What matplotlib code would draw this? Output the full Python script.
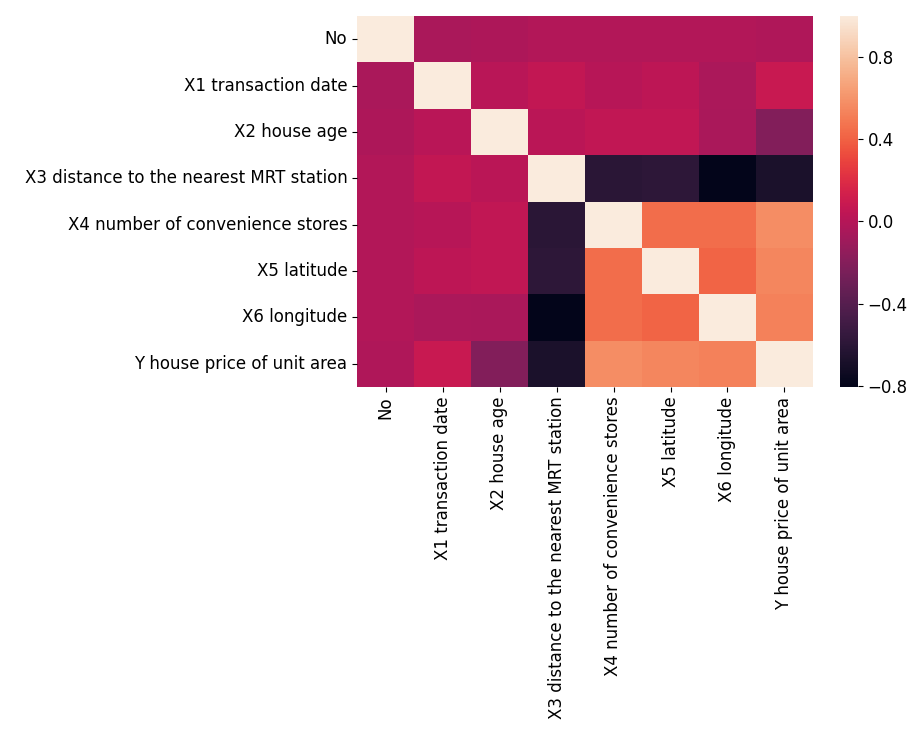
import numpy as np
import pandas as pd
import matplotlib
matplotlib.use("Agg")
import matplotlib.pyplot as plt
import seaborn as sns

labels = ["No", "X1 transaction date", "X2 house age",
          "X3 distance to the nearest MRT station",
          "X4 number of convenience stores", "X5 latitude",
          "X6 longitude", "Y house price of unit area"]

# upper triangle of the correlation matrix, row by row
row_no = [-0.0487, -0.0328, -0.0136, -0.0127, -0.0101, -0.0111, -0.0286]
row_x1 = [0.0175, 0.0609, 0.0096, 0.0351, -0.0411, 0.0875]
row_x2 = [0.0256, 0.0496, 0.0544, -0.0485, -0.2106]
row_x3 = [-0.6025, -0.5911, -0.8063, -0.6736]
row_x4 = [0.4441, 0.4491, 0.5710]
row_x5 = [0.4129, 0.5463]
row_x6 = [0.5233]

cbar_ticks = [-0.8, -0.4, 0.0, 0.4, 0.8]

rows = [row_no, row_x1, row_x2, row_x3, row_x4, row_x5, row_x6]
n = len(labels)
corr = np.eye(n)
for i, r in enumerate(rows):
    for k, v in enumerate(r):
        j = i + 1 + k
        corr[i, j] = v
        corr[j, i] = v
df = pd.DataFrame(corr, index=labels, columns=labels)

fs = 12
fig = plt.figure(figsize=(9.12, 7.35), dpi=100)
ax = fig.add_axes([357/912, 1 - 387/735, (813-357)/912, (387-16)/735])
cax = fig.add_axes([840/912, 1 - 387/735, (858-840)/912, (387-16)/735])
sns.heatmap(df, ax=ax, cbar_ax=cax, cbar_kws={"ticks": cbar_ticks})
cax.set_yticklabels(["\u22120.8", "\u22120.4", "0.0", "0.4", "0.8"])
cax.tick_params(labelsize=fs)
ax.tick_params(labelsize=fs)
fig.savefig("out.png", dpi=100)
